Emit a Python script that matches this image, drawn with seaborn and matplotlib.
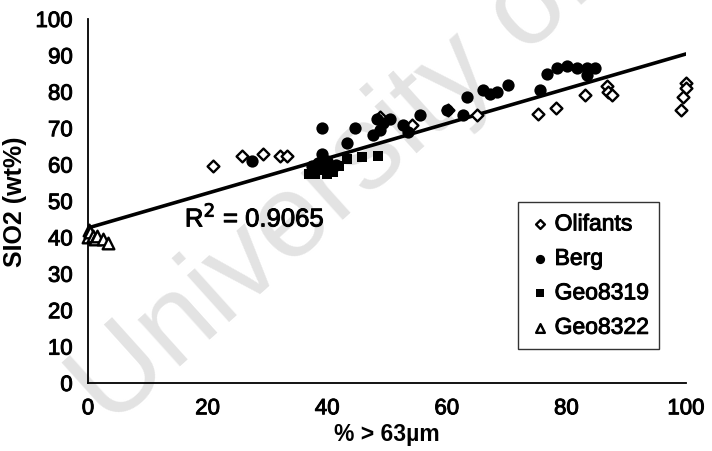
import numpy as np
import pandas as pd
import matplotlib
matplotlib.use("Agg")
import matplotlib.pyplot as plt
import matplotlib.patheffects as pe
import seaborn as sns

# Sand fraction coarser than 63 µm (%) vs SiO2 content (wt%) per sample set
olifants_x = [20.9, 25.8, 29.3, 32.1, 33.3, 48.8, 54.2, 60.2, 65.0, 75.3, 78.3,
              83.1, 86.8, 87.0, 87.6, 100.0, 100.0, 99.5, 99.2]
olifants_y = [59.5, 62.5, 63.0, 62.5, 62.5, 73.0, 71.0, 75.0, 73.5, 74.0, 75.5,
              79.0, 81.5, 80.0, 79.0, 82.5, 81.0, 78.5, 75.0]

berg_x = [27.4, 39.1, 39.1, 43.3, 44.6, 48.3, 49.3, 50.5, 48.8, 47.7, 52.7, 53.5,
          55.5, 60.0, 62.7, 63.4, 66.0, 67.2, 68.4, 70.2, 75.6, 76.8, 78.4, 80.1,
          81.8, 83.4, 84.8, 83.4, 38.5, 40.0, 41.5, 37.5]
berg_y = [61.0, 70.0, 63.0, 66.0, 70.0, 72.5, 71.5, 72.5, 69.5, 68.0, 71.0, 69.0,
          73.5, 75.0, 73.5, 78.5, 80.5, 79.5, 80.0, 82.0, 80.5, 85.0, 86.5, 87.0,
          86.5, 86.5, 86.5, 84.5, 60.5, 61.0, 60.0, 59.5]

geo8319_x = [37.0, 37.5, 38.0, 38.5, 39.5, 40.0, 40.5, 41.0, 42.0, 43.3, 45.8, 48.5]
geo8319_y = [57.5, 58.0, 57.5, 59.0, 58.5, 57.5, 59.0, 58.0, 59.5, 61.5, 62.0, 62.5]

geo8322_x = [0.0, 0.2, 0.3, 0.8, 1.2, 1.5, 2.5, 3.3]
geo8322_y = [40.0, 42.0, 41.5, 40.5, 39.5, 40.5, 39.5, 38.5]

# linear trendline through all samples and its coefficient of determination
trend_intercept = 42.6
trend_slope = 0.478
r2_label = "R$^2$ = 0.9065"

frames = [
    pd.DataFrame({"sand": olifants_x, "sio2": olifants_y, "set": "Olifants"}),
    pd.DataFrame({"sand": berg_x, "sio2": berg_y, "set": "Berg"}),
    pd.DataFrame({"sand": geo8319_x, "sio2": geo8319_y, "set": "Geo8319"}),
    pd.DataFrame({"sand": geo8322_x, "sio2": geo8322_y, "set": "Geo8322"}),
]
df = pd.concat(frames, ignore_index=True)

trend_x = np.array([df["sand"].min(), df["sand"].max()])
trend = pd.DataFrame({"sand": trend_x, "sio2": trend_intercept + trend_slope * trend_x})

sns.set_theme(style="white")
plt.rcParams["font.family"] = ["Liberation Sans", "DejaVu Sans"]

ink = [pe.withStroke(linewidth=0.7, foreground="black")]

fig = plt.figure(figsize=(7.12, 4.52), dpi=100)
ax = fig.add_axes([88 / 712, 68 / 452, 598 / 712, 364 / 452])
ax.patch.set_alpha(0)
ax.set_zorder(1)

# faint repository watermark behind the plot
fig.text(0.155, 0.05, "University of", fontsize=86, color="#e3e3e3",
         rotation=42, rotation_mode="anchor", ha="left", va="baseline", zorder=-1)

styles = {
    "Olifants": dict(marker="D", s=36, facecolor="white", edgecolor="black", linewidth=1.7),
    "Berg": dict(marker="o", s=78, color="black", edgecolor="black", linewidth=0),
    "Geo8319": dict(marker="s", s=62, color="black", edgecolor="black", linewidth=0),
    "Geo8322": dict(marker="^", s=70, facecolor="white", edgecolor="black", linewidth=1.7),
}

sns.lineplot(data=trend, x="sand", y="sio2", ax=ax, color="black", linewidth=2.6,
             zorder=3)

for name, st in styles.items():
    sub = df[df["set"] == name]
    sns.scatterplot(data=sub, x="sand", y="sio2", ax=ax, label=name,
                    clip_on=False, zorder=4, **st)

ax.set_xlim(0, 100)
ax.set_ylim(0, 100)
ax.set_xticks(np.arange(0, 101, 20))
ax.set_yticks(np.arange(0, 101, 10))
for side in ("top", "right"):
    ax.spines[side].set_visible(False)
for side in ("left", "bottom"):
    ax.spines[side].set_color("black")
    ax.spines[side].set_linewidth(1.3)
ax.tick_params(axis="both", direction="out", length=5, width=1.2, color="black",
               labelsize=16, labelcolor="black", pad=6)
for lab in ax.get_xticklabels() + ax.get_yticklabels():
    lab.set_path_effects(ink)

ax.set_xlabel("% > 63\u00b5m", fontsize=16.5, fontweight="bold", color="black", labelpad=2)
ax.set_ylabel("SIO2 (wt%)", fontsize=18, fontweight="bold", color="black", labelpad=6)

ax.text(16.2, 45.5, r2_label, fontsize=18.5, color="black", ha="left", va="center",
        path_effects=ink)

leg = ax.legend(loc="upper left", bbox_to_anchor=(0.719, 0.497), borderaxespad=0,
                fontsize=16.5, frameon=True, fancybox=False, edgecolor="black",
                handletextpad=0.15, handlelength=1.0, labelspacing=0.5,
                borderpad=0.45, markerscale=0.75)
leg.get_frame().set_linewidth(1.0)
for t in leg.get_texts():
    t.set_color("black")
    t.set_path_effects(ink)

fig.savefig("out.png", dpi=100, facecolor="white")
